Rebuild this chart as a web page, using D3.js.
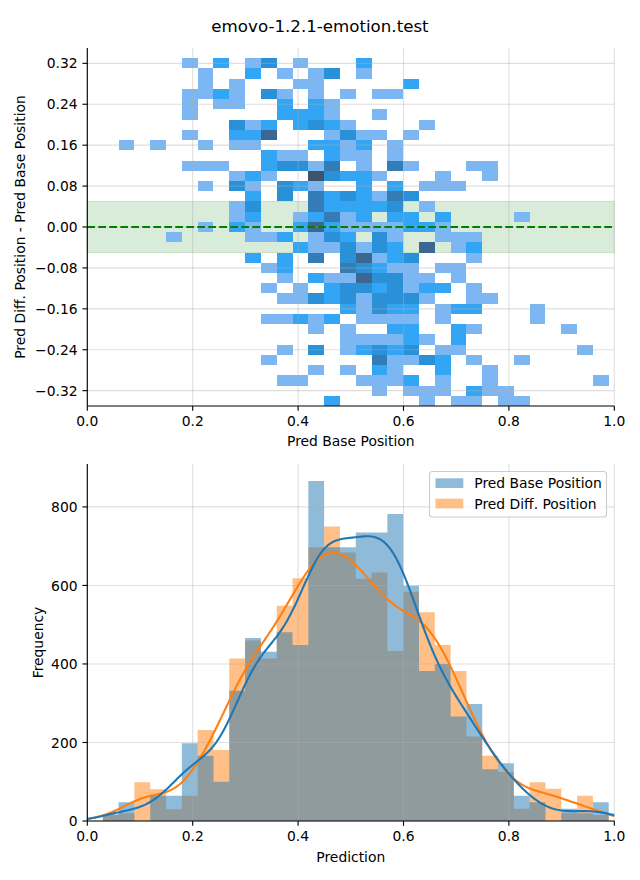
<!DOCTYPE html>
<html><head><meta charset="utf-8">
<script src="https://cdn.jsdelivr.net/npm/d3@7"></script>
<style>
body{margin:0;background:#fff}
svg{display:block;font-family:"DejaVu Sans",sans-serif}
</style>
</head><body>
<svg id="chart" width="640" height="880"></svg>
<script>
// ---------------- data ----------------
const chartTitle = "emovo-1.2.1-emotion.test";
const seriesNames = ["Pred Base Position", "Pred Diff. Position"];
const seriesColors = ["#1f77b4", "#ff7f0e"];
const histBinStart = 0.0294;
const histBinWidth = 0.03;
const baseCounts = [17,48,0,64,64,198,166,100,332,466,431,481,448,866,697,697,735,735,782,599,382,400,266,298,132,147,64,48,0,31,20,48];
const diffCounts = [15,20,99,81,30,64,232,181,414,460,414,548,618,697,750,684,617,633,433,584,532,448,382,215,166,125,31,99,82,20,64,15];

// 2D histogram: y bins (0.02 wide), row centres from top; cells "xBin:count"
const heatYBinWidth = 0.02;
const heatRowCenters = [0.32,0.30,0.28,0.26,0.24,0.22,0.20,0.18,0.16,0.14,0.12,0.10,0.08,0.06,0.04,0.02,0.00,
  -0.02,-0.04,-0.06,-0.08,-0.10,-0.12,-0.14,-0.16,-0.18,-0.20,-0.22,-0.24,-0.26,-0.28,-0.30,-0.32,-0.34];
const heatRowCells = [
  "5:1 7:2 9:1 10:3 12:1 16:2",
  "6:1 9:2 11:1 13:1 14:3 16:1",
  "6:1 8:1 12:1 13:1 19:2",
  "5:1 6:1 7:2 8:1 10:3 11:1 13:1 15:1 17:1 18:1",
  "5:1 7:1 8:1 11:2 13:2 14:1",
  "5:1 11:2 12:2 13:2 14:1 17:1",
  "8:3 9:1 10:2 12:2 13:3 14:2 15:1 20:1",
  "5:1 8:2 9:2 10:5 14:1 15:3 16:1 17:1 19:1",
  "1:1 3:1 6:1 8:1 9:1 13:2 14:2 15:1 16:2 18:1",
  "10:2 11:1 12:1 14:2 15:1 16:1 18:1",
  "5:1 6:1 7:1 10:2 11:3 12:3 13:1 14:4 16:1 18:4 19:1 23:1 24:1",
  "8:1 9:2 10:1 13:6 14:3 15:2 16:2 17:1 21:1 24:1",
  "6:1 8:3 9:1 11:3 12:2 13:1 16:2 18:2 20:1 21:1 22:1",
  "9:2 11:3 13:4 14:2 15:3 16:2 17:1 18:4 19:3",
  "8:1 9:3 13:4 14:2 15:2 16:2 17:2 18:3 20:1",
  "8:1 9:2 12:1 13:2 14:4 15:1 16:2 18:2 19:2 21:2 26:1",
  "6:1 8:2 9:1 12:2 13:5 14:2 15:1 16:1 17:1 18:1 19:2 20:2 21:1",
  "4:1 9:1 10:1 11:2 13:1 14:3 15:2 17:3 18:1 21:1 22:1 23:1",
  "12:2 13:1 14:1 15:3 16:1 17:3 18:2 20:5 22:1 23:2",
  "9:2 11:2 13:4 15:3 16:5 17:1 18:2 19:3 23:1",
  "10:1 11:2 15:4 16:3 17:2 18:1 19:1 21:1 22:1",
  "11:1 13:2 14:1 15:1 16:5 17:3 18:3 19:1 20:1 22:1",
  "10:1 12:1 14:2 15:3 16:3 17:2 18:3 19:1 20:2 21:2 23:1",
  "11:1 12:1 13:3 14:2 15:3 16:1 17:3 18:3 19:3 20:1 23:1 24:1",
  "15:2 16:1 17:3 18:2 19:2 21:1 22:2 23:2 27:1",
  "10:1 11:1 12:2 13:1 14:2 16:1 17:1 18:1 19:1 21:1 27:1",
  "13:1 15:1 18:2 19:2 22:2 23:1 29:1",
  "15:1 16:1 17:1 18:1 19:2 20:1 22:2",
  "11:1 13:3 15:1 16:2 17:3 18:2 19:3 21:1 22:1 30:1",
  "10:1 17:4 18:1 19:1 20:3 21:2 23:1 26:1",
  "13:1 15:1 17:2 18:1 21:2 24:1",
  "11:1 12:1 16:1 17:1 18:1 19:2 21:1 24:1 31:1",
  "17:1 19:1 20:1 21:1 23:2 24:1 25:1",
  "14:2 20:1 22:1 23:1 25:1 26:1"
];
const bandHalfWidth = 0.05;
const xTicks = [0, 0.2, 0.4, 0.6, 0.8, 1.0];
const heatYTicks = [-0.32,-0.24,-0.16,-0.08,0,0.08,0.16,0.24,0.32];
const freqTicks = [0, 200, 400, 600, 800];
const kdeBwAdjust = 1.6;

// ---------------- helpers ----------------
const svg = d3.select("#chart");
const FS = 13.89;
const tickLen = 4.86, tickPad = 4.86;

// HUSL (seaborn) conversions
const HM=[[3.2406,-1.5372,-0.4986],[-0.9689,1.8758,0.0415],[0.0557,-0.2040,1.0570]];
const HMI=[[0.4124,0.3576,0.1805],[0.2126,0.7152,0.0722],[0.0193,0.1192,0.9505]];
const refU=0.19784, refV=0.46834, labE=0.008856, labK=903.3;
function maxChroma(L,H){const hr=H*Math.PI/180,s=Math.sin(hr),c=Math.cos(hr);
  const sub1=Math.pow(L+16,3)/1560896, sub2=sub1>labE?sub1:L/labK; let r=Infinity;
  for(const [m1,m2,m3] of HM){const top=(0.99915*m1+1.05122*m2+1.14460*m3)*sub2;
    const rb=0.86330*m3-0.17266*m2, lb=0.12949*m3-0.38848*m1; const bottom=(rb*s+lb*c)*sub2;
    for(const t of [0,1]){const C=L*(top-1.05122*t)/(bottom+0.17266*s*t); if(C>0&&C<r)r=C;}}
  return r;}
const fInv=t=>t*t*t>labE?t*t*t:(116*t-16)/labK;
const fFwd=t=>t>labE?Math.cbrt(t):7.787*t+16/116;
const fromLin=c=>c<=0.0031308?12.92*c:1.055*Math.pow(c,1/2.4)-0.055;
const toLin=c=>c>0.04045?Math.pow((c+0.055)/1.055,2.4):c/12.92;
function huslToRgb(H,S,L){ if(L>99.9999999)return[1,1,1]; if(L<1e-8)return[0,0,0];
  const C=maxChroma(L,H)/100*S, hr=H*Math.PI/180, U=Math.cos(hr)*C, V=Math.sin(hr)*C;
  const Y=fInv((L+16)/116), vu=U/(13*L)+refU, vv=V/(13*L)+refV;
  const X=-(9*Y*vu)/((vu-4)*vv-vu*vv), Z=(9*Y-15*vv*Y-vv*X)/(3*vv);
  return HM.map(r=>Math.min(1,Math.max(0,fromLin(r[0]*X+r[1]*Y+r[2]*Z))));}
function rgbToHusl(r,g,b){const R=toLin(r),G=toLin(g),B=toLin(b);
  const X=HMI[0][0]*R+HMI[0][1]*G+HMI[0][2]*B, Y=HMI[1][0]*R+HMI[1][1]*G+HMI[1][2]*B, Z=HMI[2][0]*R+HMI[2][1]*G+HMI[2][2]*B;
  const d=X+15*Y+3*Z, vu=4*X/d, vv=9*Y/d, L=116*fFwd(Y)-16, U=13*L*(vu-refU), V=13*L*(vv-refV);
  const C=Math.hypot(U,V); let H=Math.atan2(V,U)*180/Math.PI; if(H<0)H+=360;
  return [H, C/maxChroma(L,H)*100, L];}
const seedRgb=d3.rgb(seriesColors[0]);
const [seedH,seedS]=rgbToHusl(seedRgb.r/255,seedRgb.g/255,seedRgb.b/255);
const cmap=(()=>{const n=256, m=Math.floor(1.15*256), out=[];
  for(let i=0;i<n;i++){const xx=-1+2*i/(m-1); const L=35+45*i/(n-1);
    const rgb=huslToRgb(seedH,seedS*Math.cos(xx),L); out.push(d3.rgb(rgb[0]*255,rgb[1]*255,rgb[2]*255).formatHex());}
  return out.reverse();})();

// ---------------- title ----------------
svg.append("text").attr("x",320).attr("y",32).attr("text-anchor","middle")
  .attr("font-size",16.67).attr("fill","#000").text(chartTitle);

// ---------------- top: 2D histogram ----------------
const T={l:87.3,r:614.3,t:48,b:406};
const xT=d3.scaleLinear().domain([0,1]).range([T.l,T.r]);
const yT=d3.scaleLinear().domain([-0.35,0.35]).range([T.b,T.t]);
const gT=svg.append("g");

// band (beneath the cells)
gT.append("rect").attr("x",xT(0)).attr("width",xT(1)-xT(0))
  .attr("y",yT(bandHalfWidth)).attr("height",yT(-bandHalfWidth)-yT(bandHalfWidth))
  .attr("fill","green").attr("fill-opacity",0.15).attr("stroke","green").attr("stroke-opacity",0.15).attr("stroke-width",1.1);

const cells=[];
heatRowCells.forEach((row,i)=>{ row.split(" ").forEach(p=>{const [c,v]=p.split(":").map(Number);
  cells.push({col:c,yc:heatRowCenters[i],n:v});});});
const heatMax=d3.max(cells,d=>d.n);
const colorOf=n=>{const f=n/heatMax; return cmap[Math.min(255,Math.floor(f*256))];};

gT.append("g").selectAll("rect").data(cells).join("rect")
  .attr("x",d=>xT(histBinStart+d.col*histBinWidth))
  .attr("width",d=>xT(histBinStart+(d.col+1)*histBinWidth)-xT(histBinStart+d.col*histBinWidth))
  .attr("y",d=>yT(d.yc+heatYBinWidth/2))
  .attr("height",d=>yT(d.yc-heatYBinWidth/2)-yT(d.yc+heatYBinWidth/2))
  .attr("fill",d=>colorOf(d.n)).attr("shape-rendering","crispEdges");

// grid
const gridT=gT.append("g").attr("stroke","#b0b0b0").attr("stroke-opacity",0.4).attr("stroke-width",1.11);
xTicks.forEach(t=>gridT.append("line").attr("x1",xT(t)).attr("x2",xT(t)).attr("y1",T.t).attr("y2",T.b));
heatYTicks.forEach(t=>gridT.append("line").attr("x1",T.l).attr("x2",T.r).attr("y1",yT(t)).attr("y2",yT(t)));

// zero line
gT.append("line").attr("x1",T.l).attr("x2",T.r).attr("y1",yT(0)).attr("y2",yT(0))
  .attr("stroke","green").attr("stroke-width",2.08).attr("stroke-dasharray","7.7,3.3");

// axes
const axT=svg.append("g").attr("font-size",FS);
axT.append("line").attr("x1",T.l).attr("x2",T.l).attr("y1",T.t).attr("y2",T.b).attr("stroke","#000").attr("stroke-width",1.11);
axT.append("line").attr("x1",T.l).attr("x2",T.r).attr("y1",T.b).attr("y2",T.b).attr("stroke","#000").attr("stroke-width",1.11);
xTicks.forEach(t=>{axT.append("line").attr("x1",xT(t)).attr("x2",xT(t)).attr("y1",T.b).attr("y2",T.b+tickLen).attr("stroke","#000").attr("stroke-width",1.11);
  axT.append("text").attr("x",xT(t)).attr("y",T.b+tickLen+tickPad+10.2).attr("text-anchor","middle").text(d3.format(".1f")(t));});
heatYTicks.forEach(t=>{axT.append("line").attr("x1",T.l-tickLen).attr("x2",T.l).attr("y1",yT(t)).attr("y2",yT(t)).attr("stroke","#000").attr("stroke-width",1.11);
  axT.append("text").attr("x",T.l-tickLen-tickPad).attr("y",yT(t)+5.1).attr("text-anchor","end").text(d3.format(".2f")(t));});
axT.append("text").attr("x",(T.l+T.r)/2).attr("y",446).attr("text-anchor","middle").text("Pred Base Position");
axT.append("text").attr("transform",`translate(25,${(T.t+T.b)/2}) rotate(-90)`).attr("text-anchor","middle").text("Pred Diff. Position - Pred Base Position");

// ---------------- bottom: histograms + KDE ----------------
const B={l:87.3,r:614.3,t:464,b:821};
const xB=d3.scaleLinear().domain([0,1]).range([B.l,B.r]);

function kde(counts){
  const centers=counts.map((c,k)=>histBinStart+(k+0.5)*histBinWidth);
  const n=d3.sum(counts), mean=d3.sum(counts.map((c,k)=>c*centers[k]))/n;
  const sd=Math.sqrt(d3.sum(counts.map((c,k)=>c*(centers[k]-mean)**2))/(n-1));
  const h=sd*Math.pow(n,-0.2)*kdeBwAdjust;
  const pts=d3.range(0,1.0001,0.0025).map(x=>{let s=0; counts.forEach((c,k)=>{const z=(x-centers[k])/h; s+=c*Math.exp(-0.5*z*z);});
    return [x, s/(h*Math.sqrt(2*Math.PI))*histBinWidth];});
  return pts;
}
const kdes=[kde(baseCounts),kde(diffCounts)];
const yMax=d3.max([...baseCounts,...diffCounts,...kdes.flat().map(p=>p[1])])*1.05;
const yB=d3.scaleLinear().domain([0,yMax]).range([B.b,B.t]);
const gB=svg.append("g");

function stepArea(counts){
  const pts=counts.map((c,k)=>[histBinStart+k*histBinWidth,c]);
  pts.push([histBinStart+counts.length*histBinWidth,counts[counts.length-1]]);
  return d3.area().x(p=>xB(p[0])).y0(yB(0)).y1(p=>yB(p[1])).curve(d3.curveStepAfter)(pts);
}
[[diffCounts,1],[baseCounts,0]].forEach(([c,i])=>{
  gB.append("path").attr("d",stepArea(c)).attr("fill",seriesColors[i]).attr("fill-opacity",0.5);
});

const gridB=gB.append("g").attr("stroke","#b0b0b0").attr("stroke-opacity",0.4).attr("stroke-width",1.11);
xTicks.forEach(t=>gridB.append("line").attr("x1",xB(t)).attr("x2",xB(t)).attr("y1",B.t).attr("y2",B.b));
freqTicks.forEach(t=>gridB.append("line").attr("x1",B.l).attr("x2",B.r).attr("y1",yB(t)).attr("y2",yB(t)));

const line=d3.line().x(p=>xB(p[0])).y(p=>yB(p[1]));
[1,0].forEach(i=>gB.append("path").attr("d",line(kdes[i])).attr("fill","none")
  .attr("stroke",seriesColors[i]).attr("stroke-width",2.08).attr("stroke-linejoin","round").attr("stroke-linecap","butt"));

const axB=svg.append("g").attr("font-size",FS);
axB.append("line").attr("x1",B.l).attr("x2",B.l).attr("y1",B.t).attr("y2",B.b).attr("stroke","#000").attr("stroke-width",1.11);
axB.append("line").attr("x1",B.l).attr("x2",B.r).attr("y1",B.b).attr("y2",B.b).attr("stroke","#000").attr("stroke-width",1.11);
xTicks.forEach(t=>{axB.append("line").attr("x1",xB(t)).attr("x2",xB(t)).attr("y1",B.b).attr("y2",B.b+tickLen).attr("stroke","#000").attr("stroke-width",1.11);
  axB.append("text").attr("x",xB(t)).attr("y",B.b+tickLen+tickPad+10.2).attr("text-anchor","middle").text(d3.format(".1f")(t));});
freqTicks.forEach(t=>{axB.append("line").attr("x1",B.l-tickLen).attr("x2",B.l).attr("y1",yB(t)).attr("y2",yB(t)).attr("stroke","#000").attr("stroke-width",1.11);
  axB.append("text").attr("x",B.l-tickLen-tickPad).attr("y",yB(t)+5.1).attr("text-anchor","end").text(t);});
axB.append("text").attr("x",(B.l+B.r)/2).attr("y",862).attr("text-anchor","middle").text("Prediction");
axB.append("text").attr("transform",`translate(43,${(B.t+B.b)/2}) rotate(-90)`).attr("text-anchor","middle").text("Frequency");

// legend
const lg=svg.append("g").attr("font-size",FS);
lg.append("rect").attr("x",429.5).attr("y",471.5).attr("width",177).attr("height",45.5).attr("rx",3)
  .attr("fill","#fff").attr("fill-opacity",0.8).attr("stroke","#cccccc").attr("stroke-width",1.11);
seriesNames.forEach((nm,i)=>{
  lg.append("rect").attr("x",435.5).attr("y",478.3+i*20.4).attr("width",27.8).attr("height",9.7)
    .attr("fill",seriesColors[i]).attr("fill-opacity",0.5);
  lg.append("text").attr("x",474.3).attr("y",488.3+i*20.4).text(nm);
});
</script>
</body></html>
